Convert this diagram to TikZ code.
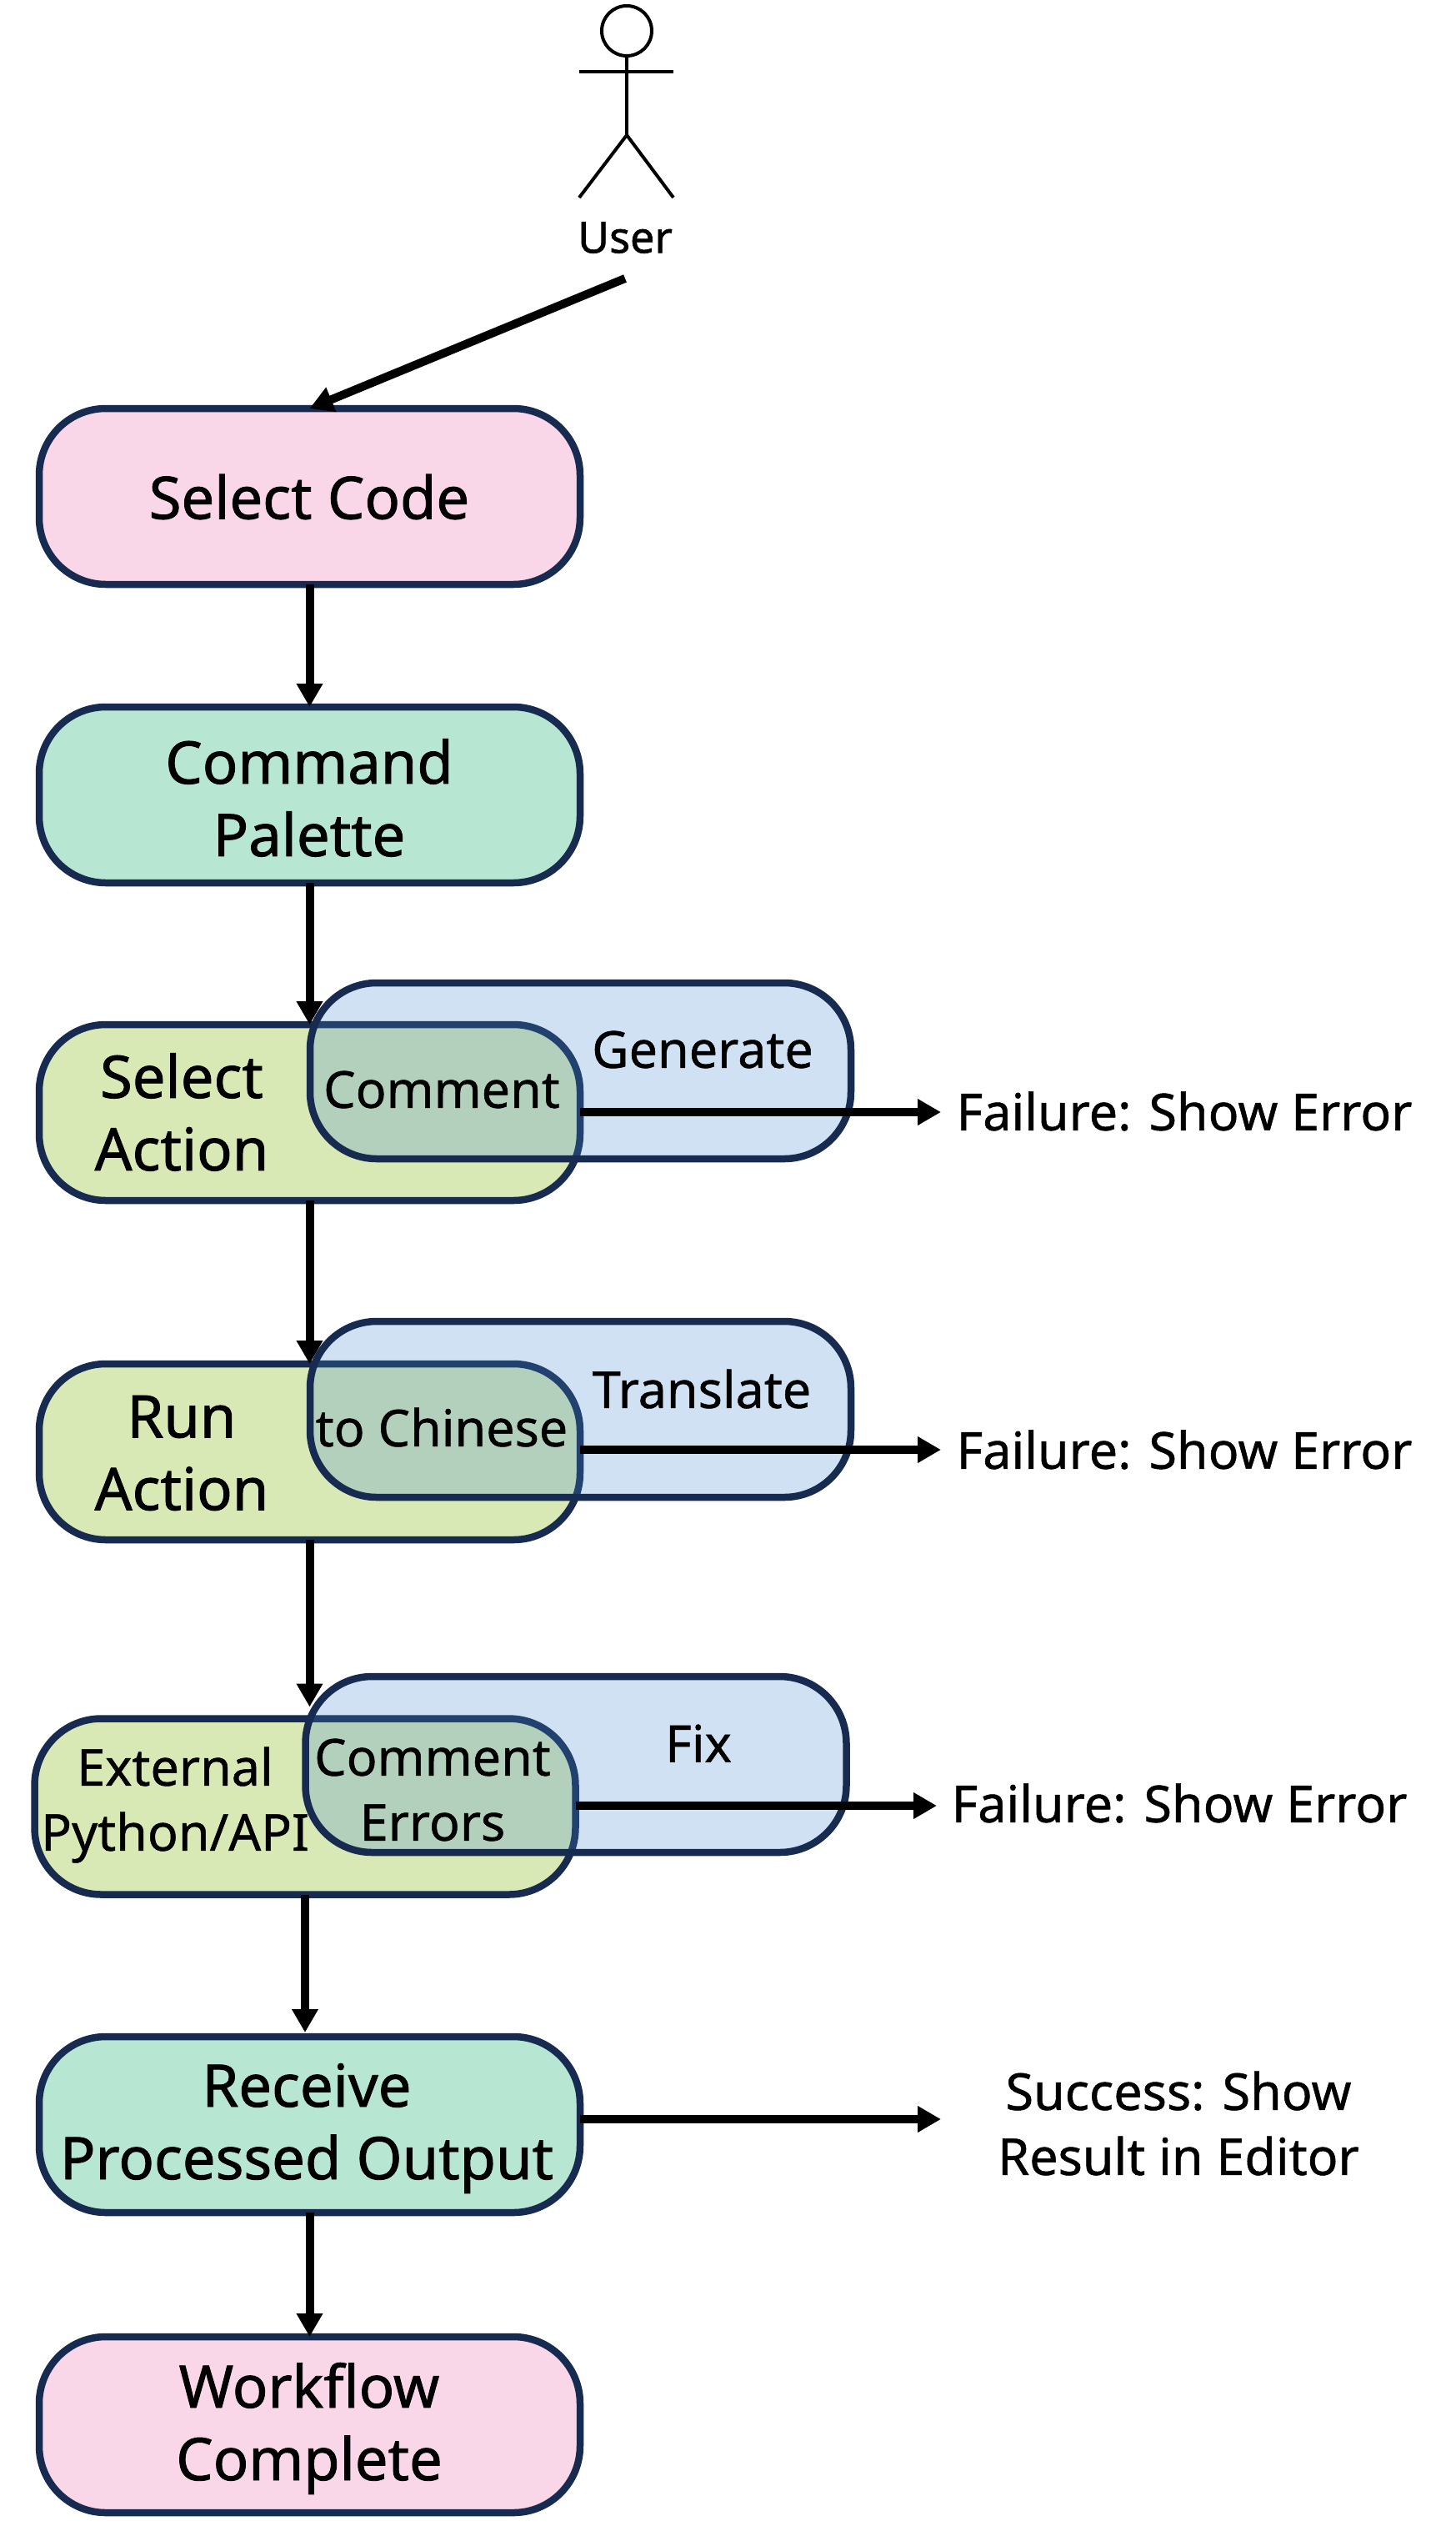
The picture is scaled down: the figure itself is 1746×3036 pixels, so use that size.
\documentclass[tikz,border=0pt]{standalone}
\usepackage{fontspec}
\setmainfont[FakeBold=1.2]{Noto Sans}
\newfontfamily\midfont[FakeBold=0.8]{Noto Sans}
\usetikzlibrary{arrows.meta}
\definecolor{edge}{HTML}{172B50}
\definecolor{pinkf}{HTML}{FAD7E8}
\definecolor{tealf}{HTML}{B7E6D2}
\definecolor{limef}{HTML}{D9E9B6}
\definecolor{bluef}{HTML}{3F87CB}
\tikzset{
  x=1pt,y=-1pt,
  boxbase/.style={rectangle,rounded corners=80pt,draw=edge,line width=8.5pt,inner sep=0pt,outer sep=0pt,minimum width=649pt,minimum height=211pt},
  pinkbox/.style={boxbase,fill=pinkf},
  tealbox/.style={boxbase,fill=tealf},
  limebox/.style={boxbase,fill=limef},
  bluebox/.style={boxbase,fill=bluef,fill opacity=0.25,draw opacity=1},
  bigtext/.style={align=center,inner sep=0pt,font=\fontsize{70.5}{87}\selectfont,text=black},
  midtext/.style={align=center,inner sep=0pt,font=\midfont\fontsize{61}{78}\selectfont,text=black},
  flow/.style={draw=black,line width=10pt,-{Triangle[length=28pt,width=30pt]}},
  person/.style={draw=black,line width=4pt},
}
\begin{document}
\begin{tikzpicture}
\useasboundingbox (0,0) rectangle (1746,3036);
% boxes
\node[pinkbox] (sc) at (371.5,595.5) {};
\node[tealbox] (cp) at (371.5,953.5) {};
\node[limebox] (sa) at (371.5,1334.5) {};
\node[limebox] (ra) at (371.5,1741.5) {};
\node[limebox] (ex) at (366,2167) {};
\node[tealbox] (rp) at (371.5,2548.5) {};
\node[pinkbox] (wc) at (371.5,2908.5) {};
\node[bluebox] (b1) at (696.5,1284.5) {};
\node[bluebox] (b2) at (696.5,1690.5) {};
\node[bluebox] (b3) at (691,2116.5) {};
% actor
\node[person,circle,inner sep=0pt,outer sep=0pt,minimum size=60pt] (head) at (752,37) {};
\coordinate (armL) at (695,86);
\coordinate (armR) at (808,86);
\coordinate (hip) at (752,162);
\coordinate (legL) at (695,237);
\coordinate (legR) at (808,237);
\draw[person] (head.south) -- (hip);
\draw[person] (armL) -- (armR);
\draw[person] (legL) -- (hip) -- (legR);
\node[inner sep=0pt,font=\fontsize{52}{60}\selectfont] (user) at (750,285) {User};
\coordinate (ustart) at (750,334);
% labels
\node[bigtext] (tsc) at (371,596) {Select Code};
\node[bigtext] (tcp) at (371,957) {Command\\Palette};
\node[bigtext] (tsa) at (218,1334) {Select\\Action};
\node[bigtext] (tra) at (218,1743) {Run\\Action};
\node[midtext] (tcm) at (530,1307) {Comment};
\node[midtext] (tgn) at (843,1259) {Generate};
\node[midtext] (ttc) at (530,1712) {to Chinese};
\node[midtext] (ttr) at (842,1666) {Translate};
\node[midtext] (tex) at (210,2165) {External\\Python/API};
\node[midtext] (tce) at (519,2147) {Comment\\Errors};
\node[midtext] (tfx) at (838,2091) {Fix};
\node[bigtext] (trp) at (368,2553) {Receive\\Processed Output};
\node[bigtext] (twc) at (371,2913) {Workflow\\Complete};
\node[midtext] (f1) at (1421,1333) {Failure: Show Error};
\node[midtext] (f2) at (1421,1739) {Failure: Show Error};
\node[midtext] (f3) at (1415,2163) {Failure: Show Error};
\node[midtext] (f4) at (1414,2547) {Success: Show\\Result in Editor};
% connectors
\coordinate (e1) at (1129,1334);
\coordinate (e2) at (1129,1739);
\coordinate (e3) at (1124,2166);
\coordinate (e4) at (1129,2542);
\draw[flow] (ustart) -- (sc.north);
\draw[flow] (sc.south) -- (cp.north);
\draw[flow] (cp.south) -- (sa.north);
\draw[flow] (sa.south) -- (ra.north);
\draw[flow,shorten >=14pt] (ra.south) -- (ra.south |- ex.north);
\draw[flow,shorten >=5pt] (ex.south) -- (ex.south |- rp.north);
\draw[flow] (rp.south) -- (rp.south |- wc.north);
\draw[flow] (sa.east |- e1) -- (e1);
\draw[flow] (ra.east |- e2) -- (e2);
\draw[flow] (ex.east |- e3) -- (e3);
\draw[flow] (rp.east |- e4) -- (e4);
\end{tikzpicture}
\end{document}
